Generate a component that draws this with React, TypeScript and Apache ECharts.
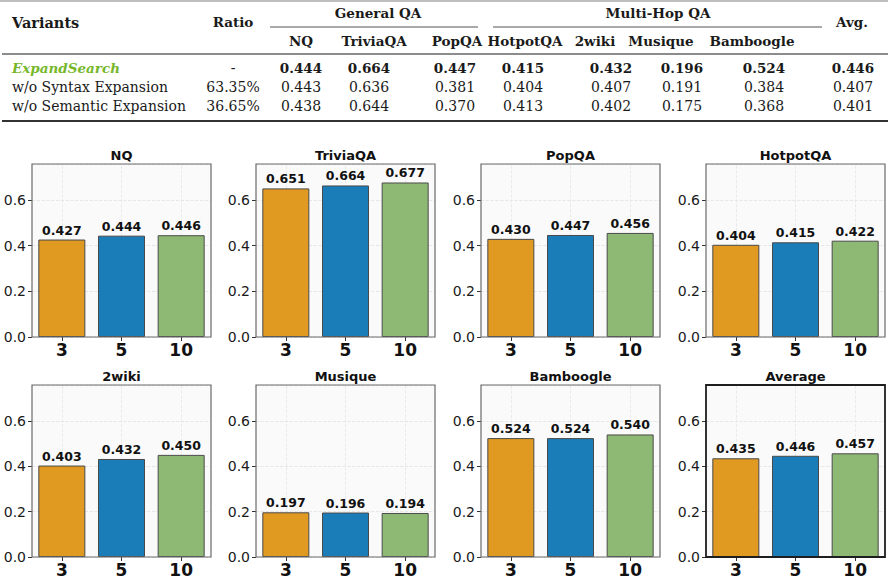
import React, { useEffect, useRef } from 'react';
import * as echarts from 'echarts';

// ---------- bar chart data ----------
const categories = ['3', '5', '10'];
const panelTitles = ['NQ', 'TriviaQA', 'PopQA', 'HotpotQA', '2wiki', 'Musique', 'Bamboogle', 'Average'];
const nqValues = [0.427, 0.444, 0.446];
const triviaValues = [0.651, 0.664, 0.677];
const popValues = [0.430, 0.447, 0.456];
const hotpotValues = [0.404, 0.415, 0.422];
const wikiValues = [0.403, 0.432, 0.450];
const musiqueValues = [0.197, 0.196, 0.194];
const bamboogleValues = [0.524, 0.524, 0.540];
const averageValues = [0.435, 0.446, 0.457];
const panelValues = [nqValues, triviaValues, popValues, hotpotValues, wikiValues, musiqueValues, bamboogleValues, averageValues];
const barColors = ['#E09A21', '#1B7DB8', '#8EB974'];
const yMax = 0.758;

// ---------- table data ----------
const groupHeaders = ['General QA', 'Multi-Hop QA'];
const subHeaders = ['NQ', 'TriviaQA', 'PopQA', 'HotpotQA', '2wiki', 'Musique', 'Bamboogle'];
const variantNames = ['ExpandSearch', 'w/o Syntax Expansion', 'w/o Semantic Expansion'];
const ratios = ['-', '63.35%', '36.65%'];
const rowExpandSearch = [0.444, 0.664, 0.447, 0.415, 0.432, 0.196, 0.524, 0.446];
const rowNoSyntax = [0.443, 0.636, 0.381, 0.404, 0.407, 0.191, 0.384, 0.407];
const rowNoSemantic = [0.438, 0.644, 0.370, 0.413, 0.402, 0.175, 0.368, 0.401];
const tableRows = [rowExpandSearch, rowNoSyntax, rowNoSemantic];

// ---------- layout ----------
const gridLefts = [32, 256, 481, 706];
const gridTops = [164, 385];
const gridW = 179;
const gridHs = [173, 172];

const subHeaderX = [301, 374, 457, 525, 595, 661, 752];
const valueX = [301, 369, 455, 523, 611, 682, 764, 853];
const rowY = [68, 87, 106];
const SERIF = '"DejaVu Serif", serif';
const SANS = '"DejaVu Sans", sans-serif';

export default function App() {
  const ref = useRef<HTMLDivElement>(null);

  useEffect(() => {
    if (!ref.current) return;
    const chart = echarts.init(ref.current, null, { renderer: 'svg' });

    const grids: any[] = [];
    const xAxes: any[] = [];
    const yAxes: any[] = [];
    const series: any[] = [];
    const graphics: any[] = [];

    panelValues.forEach((vals, i) => {
      const col = i % 4;
      const row = Math.floor(i / 4);
      const isAvg = i === 7;
      grids.push({
        left: gridLefts[col],
        top: gridTops[row],
        width: gridW,
        height: gridHs[row],
        show: true,
        backgroundColor: '#FAFAFA',
        borderWidth: 0,
        containLabel: false,
      });
      xAxes.push({
        type: 'category',
        gridIndex: i,
        data: categories,
        axisLine: { show: false },
        axisTick: { show: true, alignWithLabel: true, length: 4, lineStyle: { color: '#333' } },
        axisLabel: { margin: 4, fontSize: 17, fontWeight: 'bold', color: '#111', fontFamily: SANS },
        splitLine: { show: false },
      });
      yAxes.push({
        type: 'value',
        gridIndex: i,
        min: 0,
        max: yMax,
        interval: 0.2,
        axisLine: { show: false },
        axisTick: { show: true, length: 4, lineStyle: { color: '#333' } },
        axisLabel: {
          margin: 6,
          fontSize: 14,
          color: '#1a1a1a',
          fontFamily: SANS,
          showMaxLabel: false,
          formatter: (v: number) => v.toFixed(1),
        },
        splitLine: { show: true, lineStyle: { type: 'dashed', color: '#e2e2e2', width: 0.8 } },
      });
      series.push({
        type: 'bar',
        xAxisIndex: i,
        yAxisIndex: i,
        z: 2,
        barWidth: 47,
        data: vals.map((v, k) => ({ value: v, itemStyle: { color: barColors[k] } })),
        itemStyle: { borderColor: '#4a4a4a', borderWidth: 1 },
        label: {
          show: true,
          position: 'top',
          distance: 3,
          fontSize: 12.5,
          fontWeight: 'bold',
          color: '#111',
          fontFamily: SANS,
          formatter: (p: any) => (p.value as number).toFixed(3),
        },
        markLine: {
          silent: true,
          z: 1,
          symbol: ['none', 'none'],
          label: { show: false },
          lineStyle: { type: 'dashed', color: '#e6e6e6', width: 0.8 },
          data: categories.map((c) => ({ xAxis: c })),
        },
      });
      // panel frame
      graphics.push({
        type: 'rect',
        z: 100,
        silent: true,
        shape: { x: gridLefts[col], y: gridTops[row], width: gridW, height: gridHs[row] },
        style: { fill: 'none', stroke: isAvg ? '#1e1e1e' : '#6a6a6a', lineWidth: isAvg ? 1.8 : 1.2 },
      });
      graphics.push({
        type: 'text',
        x: gridLefts[col] + gridW / 2,
        y: gridTops[row] - 9,
        style: {
          text: panelTitles[i],
          font: `bold 13px ${SANS}`,
          fill: '#111',
          textAlign: 'center',
          textVerticalAlign: 'middle',
          verticalAlign: 'middle',
        },
      });
    });

    // ---- table ----
    const txt = (text: string, x: number, y: number, font: string, align = 'center', fill = '#1a1a1a') => ({
      type: 'text',
      x,
      y,
      style: { text, font, fill, textAlign: align, textVerticalAlign: 'middle', verticalAlign: 'middle' },
    });
    const line = (x1: number, y1: number, x2: number, y2: number, stroke: string, w: number) => ({
      type: 'line',
      shape: { x1, y1, x2, y2 },
      style: { stroke, lineWidth: w },
    });
    const hb = `bold 13.5px ${SERIF}`;
    graphics.push(line(0, 1, 888, 1, '#aaa', 1.5));
    graphics.push(txt('Variants', 12, 22, `bold 14.5px ${SERIF}`, 'left'));
    graphics.push(txt('Ratio', 233, 22, hb));
    graphics.push(txt(groupHeaders[0], 378, 13, hb));
    graphics.push(txt(groupHeaders[1], 658, 13, hb));
    graphics.push(txt('Avg.', 852, 22, hb));
    graphics.push(line(270, 27, 478, 27, '#555', 1));
    graphics.push(line(493, 27, 822, 27, '#555', 1));
    subHeaders.forEach((h, k) => graphics.push(txt(h, subHeaderX[k], 41, hb)));
    graphics.push(line(2, 54, 888, 54, '#666', 1.6));
    variantNames.forEach((name, r) => {
      const first = r === 0;
      graphics.push(
        txt(
          name,
          12,
          rowY[r],
          first ? `italic bold 13.5px ${SERIF}` : `14px ${SERIF}`,
          'left',
          first ? '#76B82A' : '#1a1a1a'
        )
      );
      graphics.push(txt(ratios[r], 233, rowY[r], `14px ${SERIF}`));
      tableRows[r].forEach((v, k) =>
        graphics.push(txt(v.toFixed(3), valueX[k], rowY[r], first ? `bold 13.5px ${SERIF}` : `14px ${SERIF}`))
      );
    });
    graphics.push(line(2, 121, 888, 121, '#333', 2));

    chart.setOption({
      animation: false,
      backgroundColor: '#ffffff',
      grid: grids,
      xAxis: xAxes,
      yAxis: yAxes,
      series,
      graphic: graphics,
    });

    return () => chart.dispose();
  }, []);

  return (
    <div
      ref={ref}
      style={{ position: 'fixed', left: 0, top: 0, width: 888, height: 578, background: '#fff' }}
    />
  );
}
